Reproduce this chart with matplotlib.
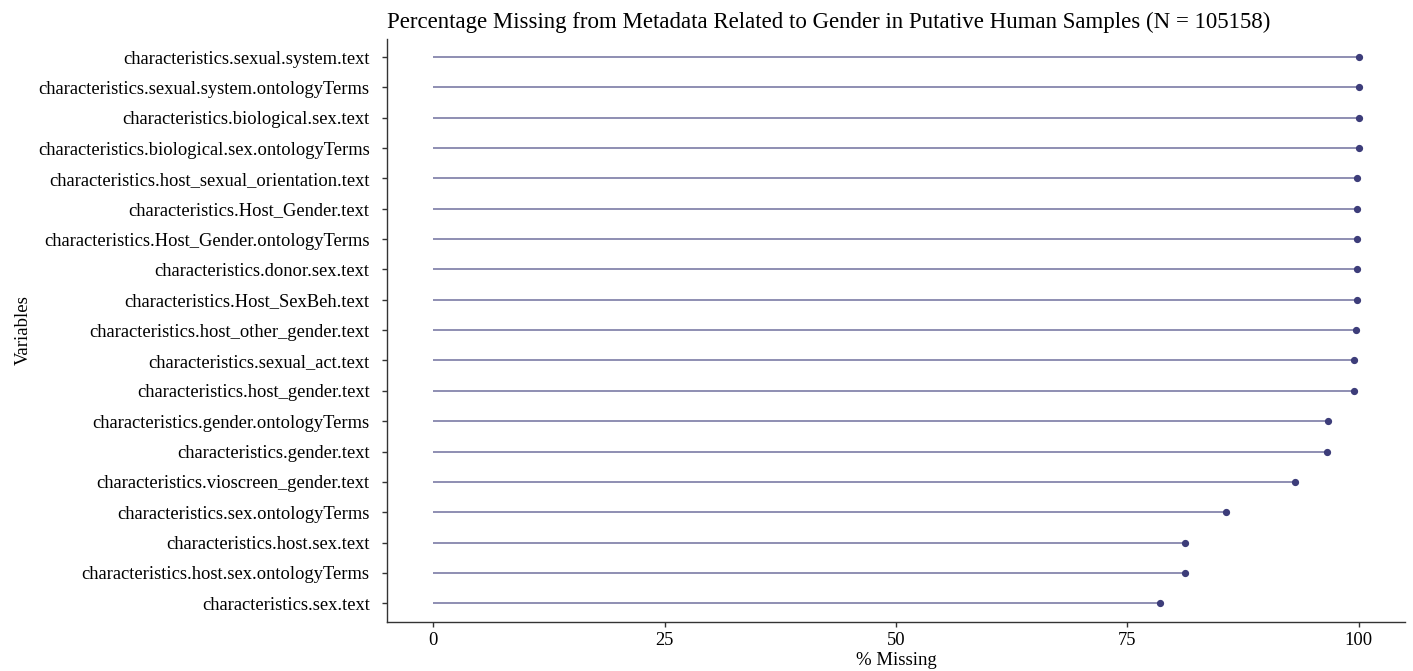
import numpy as np
import matplotlib
matplotlib.use("Agg")
import matplotlib.pyplot as plt

plt.rcParams['font.family'] = ['Liberation Serif', 'DejaVu Serif']

# variables, top to bottom
variables = [
    "characteristics.sexual.system.text",
    "characteristics.sexual.system.ontologyTerms",
    "characteristics.biological.sex.text",
    "characteristics.biological.sex.ontologyTerms",
    "characteristics.host_sexual_orientation.text",
    "characteristics.Host_Gender.text",
    "characteristics.Host_Gender.ontologyTerms",
    "characteristics.donor.sex.text",
    "characteristics.Host_SexBeh.text",
    "characteristics.host_other_gender.text",
    "characteristics.sexual_act.text",
    "characteristics.host_gender.text",
    "characteristics.gender.ontologyTerms",
    "characteristics.gender.text",
    "characteristics.vioscreen_gender.text",
    "characteristics.sex.ontologyTerms",
    "characteristics.host.sex.text",
    "characteristics.host.sex.ontologyTerms",
    "characteristics.sex.text",
]
pct_missing = [100.0, 100.0, 100.0, 100.0, 99.8, 99.8, 99.8, 99.8, 99.8, 99.7,
               99.5, 99.5, 96.7, 96.6, 93.1, 85.7, 81.2, 81.2, 78.5]
xticks = [0, 25, 50, 75, 100]

line_col = "#8686ad"
dot_col = "#3d3d7a"

fig = plt.figure(figsize=(14.13, 6.71), dpi=100)
ax = fig.add_axes([387/1413, 1 - 621.5/671, (1405-387)/1413, (621.5-38.8)/671])

n = len(variables)
y = np.arange(n)[::-1]
ax.hlines(y, 0, pct_missing, color=line_col, lw=1.3)
ax.plot(pct_missing, y, 'o', color=dot_col, ms=4.2)

ax.set_xlim(-5, 105)
ax.set_ylim(-0.6, n - 0.4)
ax.set_yticks(y)
ax.set_yticklabels(variables, fontsize=13.3)
ax.set_xticks(xticks)
ax.set_xticklabels([str(t) for t in xticks], fontsize=13.3)
ax.tick_params(length=3.5, width=1, color="#333333")
ax.tick_params(axis='y', pad=9)
ax.tick_params(axis='x', pad=4)

for s in ['top', 'right']:
    ax.spines[s].set_visible(False)
for s in ['left', 'bottom']:
    ax.spines[s].set_color("#333333")
    ax.spines[s].set_linewidth(1)

ax.set_xlabel("% Missing", fontsize=13.5, labelpad=2)
ax.set_ylabel("Variables", fontsize=13.5, labelpad=4.5)
ax.set_title("Percentage Missing from Metadata Related to Gender in Putative Human Samples (N = 105158)",
             fontsize=16.5, loc='left', pad=8)

fig.savefig("out.png", dpi=100)
